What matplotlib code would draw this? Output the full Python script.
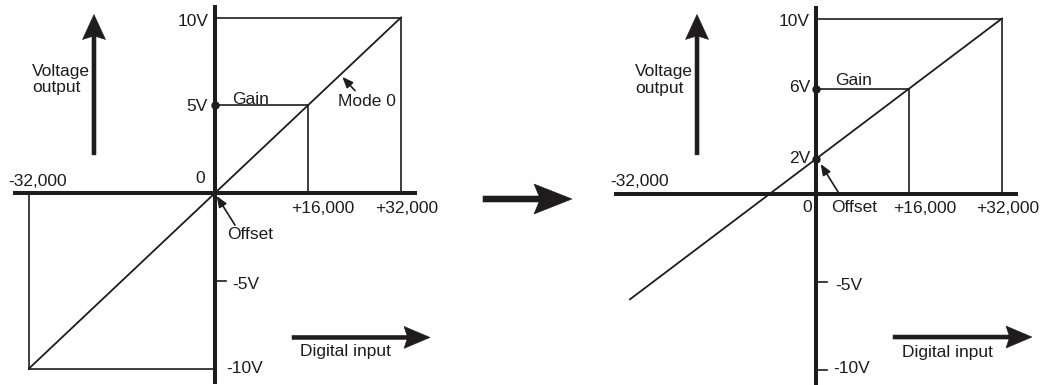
import matplotlib
matplotlib.use("Agg")
import matplotlib.pyplot as plt
import matplotlib.transforms as mtransforms
from matplotlib.patches import Polygon

plt.rcParams["font.family"] = ["Liberation Sans", "DejaVu Sans"]

# ---- data -------------------------------------------------------------
input_range = [-32000, 0, 32000]          # digital input counts
gain_input = 16000                        # input count where gain is set
full_scale_v = 10                         # full-scale output (V)

mode0_output = [-10, 0, 10]               # Mode 0: output at -32000 / 0 / +32000
mode0_gain_v = 5
mode0_offset_v = 0

custom_output = [-6, 2, 10]               # adjusted: offset 2 V, gain 6 V
custom_gain_v = 6
custom_offset_v = 2

neg_ticks_v = [-5, -10]
x_labels = ["-32,000", "+16,000", "+32,000"]

INK = "#1e1c1d"
FS = 12.5
W, H = 1043, 385

fig = plt.figure(figsize=(W / 100, H / 100), dpi=100)

CNT_PER_PX = 32000 / 186.0
V_PER_PX = 10 / 175.5
AX_W = 442
ORIGIN_X = 215


def make_axes(left_px, origin_y):
    ax = fig.add_axes([left_px / W, 0, AX_W / W, 1])
    ax.set_xlim(-ORIGIN_X * CNT_PER_PX, (AX_W - ORIGIN_X) * CNT_PER_PX)
    ax.set_ylim(-(H - origin_y) * V_PER_PX, origin_y * V_PER_PX)
    ax.axis("off")
    return ax


def arrow_shape(length, shaft, head_len, head_half, notch, vertical=False):
    t = shaft / 2.0
    b = length - head_len
    pts = [(0, t), (b + notch, t), (b, head_half), (length, 0),
           (b, -head_half), (b + notch, -t), (0, -t)]
    if vertical:
        pts = [(-y, x) for x, y in pts]
    return [(x / 100.0, y / 100.0) for x, y in pts]


def block_arrow(ax, tail, tip, shaft=4, head_len=25, head_half=11.5, notch=3):
    vertical = tail[0] == tip[0]
    if vertical:
        length = (tip[1] - tail[1]) / V_PER_PX
    else:
        length = (tip[0] - tail[0]) / CNT_PER_PX
    trans = fig.dpi_scale_trans + mtransforms.ScaledTranslation(
        tail[0], tail[1], ax.transData)
    ax.add_patch(Polygon(arrow_shape(length, shaft, head_len, head_half, notch,
                                     vertical), closed=True, transform=trans,
                         facecolor=INK, edgecolor=INK, lw=0.4, clip_on=False))


def pointer(ax, tail, tip):
    ax.annotate("", xy=tip, xytext=tail,
                arrowprops=dict(arrowstyle="-|>,head_length=0.65,head_width=0.26",
                                lw=1.2, color=INK, shrinkA=0, shrinkB=0,
                                mutation_scale=10))


def label(ax, x, y, s, ha="left"):
    ax.text(x, y, s, ha=ha, va="baseline", fontsize=FS, color=INK)


def base_frame(ax, out, gain_v):
    thin = dict(color=INK, lw=1.2, solid_capstyle="butt")
    # main axes
    ax.plot([-202 * CNT_PER_PX, 202 * CNT_PER_PX], [0, 0], color=INK, lw=2.9,
            solid_capstyle="butt")
    ax.plot([0, 0], [-10.86, 10.69], color=INK, lw=2.9, solid_capstyle="butt")
    # full-scale box
    ax.plot([0, input_range[2]], [full_scale_v, full_scale_v], **thin)
    ax.plot([input_range[2], input_range[2]], [0, full_scale_v], **thin)
    # gain point box
    ax.plot([0, gain_input], [gain_v, gain_v], **thin)
    ax.plot([gain_input, gain_input], [0, gain_v], **thin)
    # transfer line
    ax.plot([input_range[0], input_range[2]], [out[0], out[2]], color=INK, lw=1.3)
    ax.plot(0, gain_v, "o", ms=5, color=INK)


# ---- left panel: Mode 0 ---------------------------------------------
ax1 = make_axes(0, 193)
base_frame(ax1, mode0_output, mode0_gain_v)
ax1.plot([input_range[0], 0], [-full_scale_v, -full_scale_v], color=INK, lw=1.2)
ax1.plot([input_range[0], input_range[0]], [-full_scale_v, 0], color=INK, lw=1.2)
ax1.plot([0, 1900], [neg_ticks_v[0], neg_ticks_v[0]], color=INK, lw=1.2)

label(ax1, -1150, 9.54, "10V", "right")
label(ax1, -1200, 4.69, f"{mode0_gain_v}V", "right")
label(ax1, -31430, 6.69, "Voltage")
label(ax1, -31430, 5.73, "output")
label(ax1, 2980, 5.09, "Gain")
label(ax1, 21210, 4.97, "Mode 0")
label(ax1, -2580, 0.55, "0", "center")
label(ax1, -35560, 0.40, x_labels[0])
label(ax1, 13070, -1.16, x_labels[1])
label(ax1, 27530, -1.16, x_labels[2])
label(ax1, 2120, -2.63, "Offset")
label(ax1, 3050, -5.49, f"{neg_ticks_v[0]}V")
label(ax1, 14620, -9.31, "Digital input")
label(ax1, 2010, -10.23, f"{neg_ticks_v[1]}V")

pointer(ax1, (24090, 5.83), (21900, 6.62))
pointer(ax1, (3440, -1.83), (290, -0.17))

block_arrow(ax1, (-20820, 2.17), (-20820, 10.17))
block_arrow(ax1, (13250, -8.23), (36990, -8.23), head_len=26, head_half=11)

# ---- right panel: adjusted offset / gain ------------------------------
ax2 = make_axes(601, 194)
base_frame(ax2, custom_output, custom_gain_v)
ax2.plot(0, custom_offset_v, "o", ms=5, color=INK)
for v in neg_ticks_v:
    ax2.plot([0, 1900], [v, v], color=INK, lw=1.2)

label(ax2, -1030, 9.60, "10V", "right")
label(ax2, -1030, 5.79, f"{custom_gain_v}V", "right")
label(ax2, -1030, 1.75, f"{custom_offset_v}V", "right")
label(ax2, -31140, 6.74, "Voltage")
label(ax2, -31140, 5.75, "output")
label(ax2, 3270, 6.23, "Gain")
label(ax2, -35320, 0.46, x_labels[0])
label(ax2, -1550, -1.01, "0", "center")
label(ax2, 2530, -1.05, "Offset")
label(ax2, 13300, -1.10, x_labels[1])
label(ax2, 27530, -1.10, x_labels[2])
label(ax2, 3270, -5.45, f"{neg_ticks_v[0]}V")
label(ax2, 14740, -9.26, "Digital input")
label(ax2, 2980, -10.19, f"{neg_ticks_v[1]}V")

pointer(ax2, (4130, -0.06), (800, 1.71))

block_arrow(ax2, (-20470, 2.23), (-20470, 10.23))
block_arrow(ax2, (13250, -8.15), (37160, -8.15), head_len=26, head_half=11)

# ---- centre arrow between the panels ----------------------------------
mid_trans = fig.dpi_scale_trans + mtransforms.ScaledTranslation(
    483 / W, (H - 199) / H, fig.transFigure)
fig.add_artist(Polygon(arrow_shape(89, 6, 38, 15, 5), closed=True,
                       transform=mid_trans, facecolor=INK, edgecolor=INK,
                       lw=0.4))

fig.savefig("out.png", dpi=100)
